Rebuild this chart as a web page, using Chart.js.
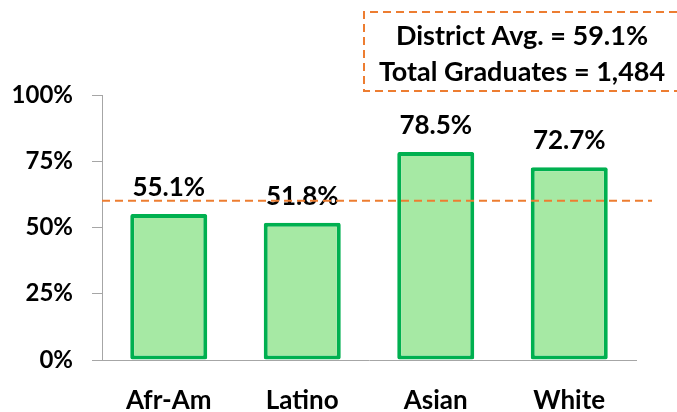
<!DOCTYPE html>
<html>
<head>
<meta charset="utf-8">
<script src="https://cdn.jsdelivr.net/npm/chart.js@4"></script>
<style>
  html, body { margin: 0; padding: 0; background: #fff; }
  #wrap { width: 677px; height: 412px; }
</style>
</head>
<body>
<div id="wrap"><canvas id="grafico"></canvas></div>
<script>
const categorias = ['Afr-Am', 'Latino', 'Asian', 'White'];
const valores = [55.1, 51.8, 78.5, 72.7];
const ticksY = [0, 25, 50, 75, 100];
const linhaMedia = 60.1;
const textoCaixa = ['District Avg. = 59.1%', 'Total Graduates = 1,484'];

const fonte = 'Lato, "Open Sans", sans-serif';
const laranja = '#ED7D31';

const pluginExtras = {
    id: 'extras',
    afterDatasetsDraw(chart) {
        const ctx = chart.ctx;
        const y = chart.scales.y;
        const area = chart.chartArea;

        // rótulos de valor
        const meta = chart.getDatasetMeta(0);
        ctx.save();
        ctx.fillStyle = '#000';
        ctx.font = 'bold 26px ' + fonte;
        ctx.textAlign = 'center';
        ctx.textBaseline = 'alphabetic';
        meta.data.forEach((bar, i) => {
            ctx.fillText(valores[i].toFixed(1) + '%', bar.x, bar.y - 18);
        });

        // linha da média
        const yMedia = y.getPixelForValue(linhaMedia);
        ctx.strokeStyle = laranja;
        ctx.lineWidth = 2;
        ctx.setLineDash([8, 5]);
        ctx.beginPath();
        ctx.moveTo(area.left, yMedia);
        ctx.lineTo(area.right + 16, yMedia);
        ctx.stroke();

        // caixa
        ctx.beginPath();
        ctx.moveTo(690, 12);
        ctx.lineTo(364, 12);
        ctx.lineTo(364, 91);
        ctx.lineTo(690, 91);
        ctx.stroke();
        ctx.setLineDash([]);
        ctx.font = 'bold 27px ' + fonte;
        ctx.fillText(textoCaixa[0], 522, 45);
        ctx.fillText(textoCaixa[1], 522, 81);
        ctx.restore();
    }
};

const ctxGrafico = document.getElementById('grafico').getContext('2d');
const grafico = new Chart(ctxGrafico, {
    type: 'bar',
    data: {
        labels: categorias,
        datasets: [{
            data: valores,
            backgroundColor: '#A6E9A4',
            borderColor: '#00B050',
            borderWidth: 4,
            borderSkipped: false,
            borderRadius: 2,
            categoryPercentage: 1,
            barPercentage: 0.577
        }]
    },
    options: {
        responsive: true,
        maintainAspectRatio: false,
        animation: false,
        layout: {
            padding: { top: 95, right: 41, left: 0, bottom: 0 }
        },
        plugins: {
            legend: { display: false },
            tooltip: { enabled: false }
        },
        scales: {
            x: {
                grid: { display: false },
                border: { display: true, color: '#A6A6A6', width: 1 },
                ticks: {
                    color: '#000',
                    padding: 17,
                    font: { family: fonte, size: 26, weight: 'bold' }
                },
                afterFit(scale) { scale.height = 52; }
            },
            y: {
                min: 0,
                max: 100,
                afterBuildTicks(scale) {
                    scale.ticks = ticksY.map(v => ({ value: v }));
                },
                grid: {
                    drawOnChartArea: false,
                    drawTicks: true,
                    tickLength: 10,
                    color: '#A6A6A6'
                },
                border: { display: true, color: '#A6A6A6', width: 1 },
                ticks: {
                    color: '#000',
                    padding: 19,
                    font: { family: fonte, size: 24, weight: 'bold' },
                    callback: v => v + '%'
                },
                afterFit(scale) { scale.width = 102; }
            }
        }
    },
    plugins: [pluginExtras]
});
</script>
</body>
</html>
